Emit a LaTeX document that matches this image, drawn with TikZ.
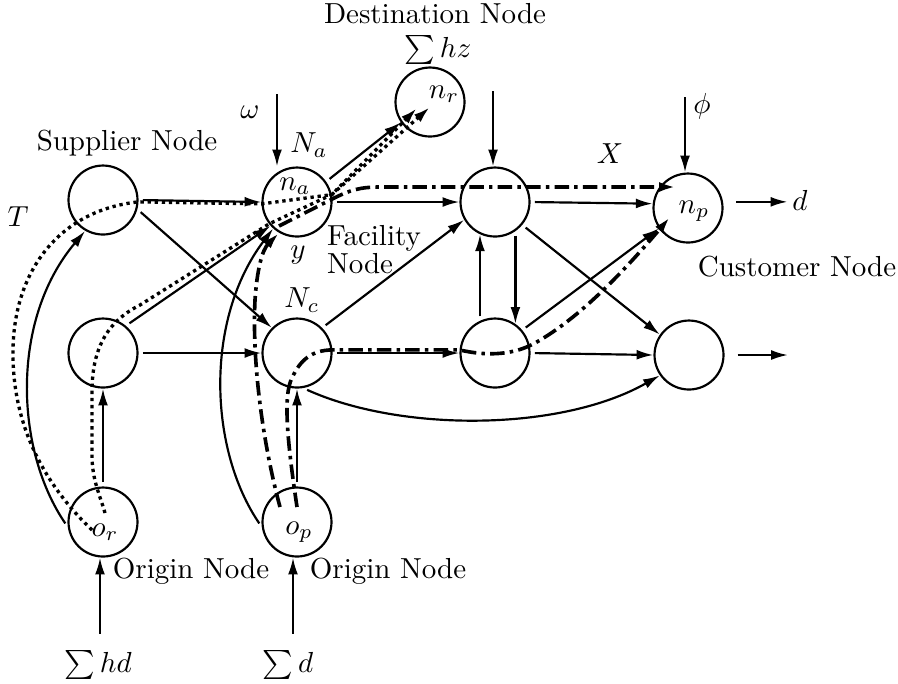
\documentclass[tikz,border=0pt]{standalone}
\usetikzlibrary{arrows.meta}
\begin{document}
\begin{tikzpicture}[x=0.345pt,y=-0.345pt,
  nd/.style={circle,draw,line width=0.75pt,minimum size=23.8pt,inner sep=0pt},
  txt/.style={inner sep=0.5pt},
  con/.style={line width=0.75pt,shorten <=1.5pt,-{Latex[length=5.8pt,width=3.4pt]}},
  dotp/.style={line width=1.15pt,dash pattern=on 1.15pt off 1.3pt,-{Latex[length=5.8pt,width=3.4pt]}},
  ddp/.style={line width=1.25pt,dash pattern=on 5pt off 1.8pt on 1.2pt off 1.8pt,-{Latex[length=5.8pt,width=3.4pt]}},
]
\useasboundingbox (0,0) rectangle (898,683);
% nodes
\node[nd] (S) at (103,200) {};
\node[nd] (L) at (103,353) {};
\node[nd] (Or) at (103,522) {};
\node[nd] (Na) at (297,202) {};
\node[nd] (Nc) at (297,353) {};
\node[nd] (Op) at (297,522) {};
\node[nd] (nr) at (430,102) {};
\node[nd] (F1) at (495,202) {};
\node[nd] (F2) at (495,353) {};
\node[nd] (np) at (688,208) {};
\node[nd] (C2) at (689,355) {};
% labels
\node[txt,inner sep=0pt] (tDest) at (435,14) {Destination Node};
\node[txt,inner sep=0pt] (tHz) at (438,50) {$\sum hz$};
\node[txt] (tW) at (250,112) {$\omega$};
\node[txt] (tNa) at (309,145) {$N_a$};
\node[txt] (tna) at (295,186) {$n_a$};
\node[txt] (tSup) at (127,143) {Supplier Node};
\node[txt] (tT) at (18,217) {$T$};
\node[txt] (ty) at (298,255) {$y$};
\node[txt,anchor=base west] (tFac) at (325,245) {Facility};
\node[txt,anchor=base west] (tFac2) at (325,273) {Node};
\node[txt] (tNc) at (302,300) {$N_c$};
\node[txt] (tX) at (610,154) {$X$};
\node[txt] (tphi) at (702,106) {$\phi$};
\node[txt] (tnp) at (694,211) {$n_p$};
\node[txt] (td) at (800,200) {$d$};
\node[txt] (tCust) at (797,267) {Customer Node};
\node[txt] (tnr) at (444,94) {$n_r$};
\node[txt] (tor) at (105,532) {$o_r$};
\node[txt] (tOp) at (299,532) {$o_p$};
\node[txt] (tOr1) at (191,571) {Origin Node};
\node[txt] (tOr2) at (388,571) {Origin Node};
\node[txt] (thd) at (98,665) {$\sum hd$};
\node[txt] (tsd) at (288,665) {$\sum d$};
% free ends
\coordinate (wS) at (277,90);
\coordinate (f1S) at (493,87);
\coordinate (phiS) at (685,93);
\coordinate (hdS) at (100,638);
\coordinate (dS) at (293,638);
\coordinate (outE) at (788,355);
% input / output arrows
\draw[con] (wS) -- (wS |- Na.north);
\draw[con] (f1S) -- (f1S |- F1.north);
\draw[con] (phiS) -- (phiS |- np.north);
\draw[con] (hdS) -- (hdS |- Or.south);
\draw[con] (dS) -- (dS |- Op.south);
\draw[con] ([xshift=3pt]np.10) -- ([xshift=-1pt]td.west |- np.10);
\draw[con] ([xshift=3pt]C2.east) -- (outE);
% solid connectors
\draw[con] (S.east) -- (Na.west);
\draw[con] (S.-15) -- (Nc.135);
\draw[con] (L.50) -- (Na.222);
\draw[con] (L.east) -- (Nc.west);
\draw[con] (Or.north) -- (L.south);
\draw[con] (Or.188) .. controls (15,450) and (10,320) .. (S.240);
\draw[con] (Op.north) -- (Nc.south);
\draw[con] (Op.188) .. controls (209,450) and (204,320) .. (Na.228);
\draw[con] (Na.east) -- (F1.west);
\draw[con] (Na.35) -- (nr.215);
\draw[con] (Nc.45) -- (F1.210);
\draw[con] (Nc.east) -- (F2.west);
\draw[con] (Nc.-80) .. controls (400,432) and (560,432) .. (C2.215);
\draw[con] (F2.115) -- (F1.245);
\draw[con] (F1.-55) -- (F2.55);
\draw[con] (F1.east) -- (np.173);
\draw[con] (F1.-40) -- (C2.145);
\draw[con] (F2.40) -- (np.215);
\draw[con] (F2.east) -- (C2.west);
% dotted routes
\draw[dotp] ([shift={(-11,8)}]Or.center) .. controls (40,480) and (12,420) .. (13,350)
  .. controls (14,270) and (60,210) .. (S.-3) -- (Na.183) -- (Na.12) -- ([shift={(0,5)}]nr.center);
\draw[dotp] ([shift={(2,-9)}]Or.center) .. controls (100,495) and (92,480) .. (92,455) -- (92,392)
  .. controls (92,345) and (110,320) .. (140,305) -- (Na.218) -- (Na.12) -- ([shift={(-13,6)}]nr.center);
% dash-dot routes
\draw[ddp] ([shift={(-17,-15)}]Op.center) .. controls (262,440) and (252,360) .. (255,300)
  .. controls (257,270) and (262,250) .. (Na.240);
\draw[ddp] ([shift={(-18,24)}]Na.center) -- (Na.5) .. controls (350,190) and (360,187) .. (380,187)
  -- ([shift={(-12,-21)}]np.center);
\draw[ddp] ([shift={(0,-15)}]Op.center) .. controls (287,440) and (283,395) .. (292,378)
  .. controls (300,360) and (312,350) .. (Nc.5) -- (F2.175)
  .. controls (490,357) and (515,354) .. (535,343) .. controls (580,318) and (625,270) .. ([shift={(-18,9)}]np.center);
\end{tikzpicture}
\end{document}
